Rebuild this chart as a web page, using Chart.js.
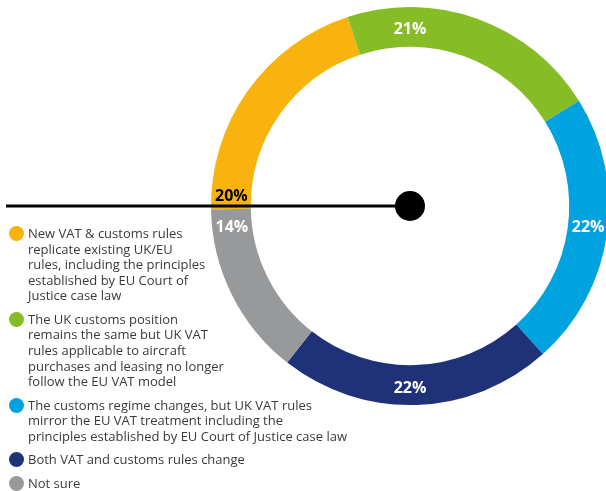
<!DOCTYPE html>
<html>
<head>
<meta charset="utf-8">
<script src="https://cdn.jsdelivr.net/npm/chart.js@4/dist/chart.umd.min.js"></script>
<style>
  html, body { margin: 0; padding: 0; background: #fff; }
  #wrap { position: relative; width: 606px; height: 491px; overflow: hidden; }
  #c { position: absolute; left: 0; top: 0; }
  #legend { position: absolute; left: 0; top: 226px; font-family: 'Open Sans', sans-serif; font-size: 13px; line-height: 15.6px; color: #3a3a3a; }
  .item { position: relative; padding-left: 28px; margin-bottom: 7.8px; white-space: pre; }
  .dot { position: absolute; left: 8.5px; top: 0.3px; width: 15px; height: 15px; border-radius: 50%; }
</style>
</head>
<body>
<div id="wrap">
  <canvas id="c" width="820" height="491"></canvas>
  <div id="legend"></div>
</div>
<script>
const categories = [
  "New VAT & customs rules\nreplicate existing UK/EU\nrules, including the principles\nestablished by EU Court of\nJustice case law",
  "The UK customs position\nremains the same but UK VAT\nrules applicable to aircraft\npurchases and leasing no longer\nfollow the EU VAT model",
  "The customs regime changes, but UK VAT rules\nmirror the EU VAT treatment including the\nprinciples established by EU Court of Justice case law",
  "Both VAT and customs rules change",
  "Not sure"
];
const values = [20, 21, 22, 22, 14];
const valueLabels = ["20%", "21%", "22%", "22%", "14%"];
const colors = ["#F8B30F", "#86BC25", "#00A3E0", "#1F3278", "#97999B"];
const labelColors = ["#000000", "#ffffff", "#ffffff", "#ffffff", "#ffffff"];
const labelAngles = [274, 0, 96, 180, 264]; // degrees clockwise from top

// legend
const legend = document.getElementById('legend');
categories.forEach((t, i) => {
  const d = document.createElement('div');
  d.className = 'item';
  d.textContent = t;
  const m = document.createElement('span');
  m.className = 'dot';
  m.style.background = colors[i];
  d.appendChild(m);
  legend.appendChild(d);
});

const overlay = {
  id: 'overlay',
  afterDatasetsDraw(chart) {
    const ctx = chart.ctx;
    const meta = chart.getDatasetMeta(0);
    const arc = meta.data[0];
    const cx = arc.x, cy = arc.y;
    const rMid = (arc.outerRadius + arc.innerRadius) / 2;
    ctx.save();
    // pointer line and dot
    ctx.strokeStyle = '#000';
    ctx.lineWidth = 2.8;
    ctx.beginPath();
    ctx.moveTo(6, cy);
    ctx.lineTo(cx, cy);
    ctx.stroke();
    ctx.fillStyle = '#000';
    ctx.beginPath();
    ctx.arc(cx, cy, 15, 0, Math.PI * 2);
    ctx.fill();
    // value labels
    ctx.font = 'bold 16px "Open Sans", sans-serif';
    ctx.textAlign = 'center';
    ctx.textBaseline = 'middle';
    valueLabels.forEach((lab, i) => {
      const a = labelAngles[i] * Math.PI / 180;
      const x = cx + rMid * Math.sin(a);
      const y = cy - rMid * Math.cos(a) + 3;
      ctx.fillStyle = labelColors[i];
      ctx.fillText(lab, x, y);
    });
    ctx.restore();
  }
};

new Chart(document.getElementById('c'), {
  type: 'doughnut',
  data: {
    labels: categories,
    datasets: [{
      data: values,
      backgroundColor: colors,
      borderWidth: 0,
      hoverOffset: 0
    }]
  },
  options: {
    responsive: false,
    animation: false,
    rotation: -91,
    cutout: '80%',
    layout: { padding: { left: 211, right: 211, top: 7, bottom: 86 } },
    plugins: { legend: { display: false }, tooltip: { enabled: false } }
  },
  plugins: [overlay]
});
</script>
</body>
</html>
